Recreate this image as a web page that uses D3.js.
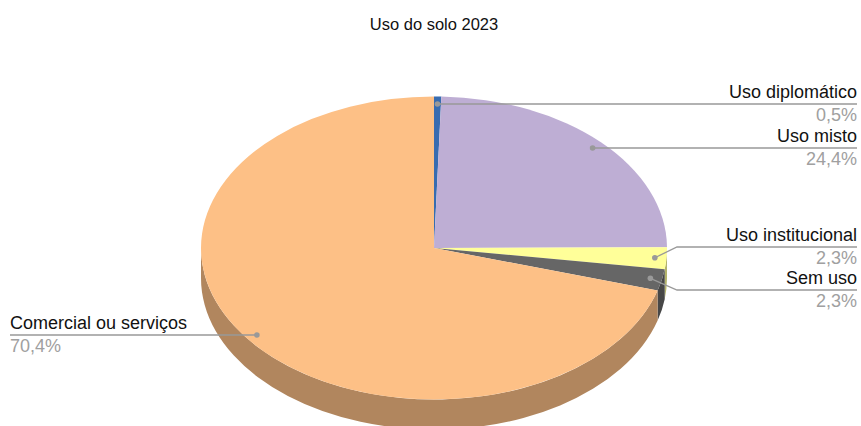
<!DOCTYPE html>
<html>
<head>
<meta charset="utf-8">
<script src="https://cdn.jsdelivr.net/npm/d3@7"></script>
<style>
  body { margin: 0; background: #fff; }
  svg { display: block; font-family: "Liberation Sans", Arial, sans-serif; }
</style>
</head>
<body>
<svg id="chart" width="861" height="426"></svg>
<script>
// data
const categories = ["Uso diplomático", "Uso misto", "Uso institucional", "Sem uso", "Comercial ou serviços"]
const values = [0.5, 24.4, 2.3, 2.3, 70.4]
const colors = ["#386cb0", "#beaed4", "#ffff99", "#666666", "#fdc086"]
const title = "Uso do solo 2023"

const width = 861
const height = 426
const cx = 434, cy = 248
const rx = 233, ry = 151.5
const depth = 30

const svg = d3.select("#chart")

svg.append("text")
  .attr("x", cx)
  .attr("y", 30)
  .attr("text-anchor", "middle")
  .attr("font-size", 16.5)
  .attr("fill", "#111")
  .text(title)

const slices = categories.map((c, i) => ({ name: c, value: values[i], color: colors[i] }))

const pie = d3.pie()
  .sort(null)
  .value(d => d.value)

const arcs = pie(slices)

// point on the top ellipse, angle clockwise from 12 o'clock
function ellipsePoint(a, f = 1) {
  return [cx + f * rx * Math.sin(a), cy - f * ry * Math.cos(a)]
}

// sides first (only the front half is visible)
const sides = svg.append("g")
for (let a of arcs) {
  let s = Math.max(a.startAngle, Math.PI / 2)
  let e = Math.min(a.endAngle, 3 * Math.PI / 2)
  if (e <= s) continue
  let p0 = ellipsePoint(s), p1 = ellipsePoint(e)
  let d = `M${p0[0]},${p0[1]}` +
    ` A${rx},${ry} 0 0 1 ${p1[0]},${p1[1]}` +
    ` L${p1[0]},${p1[1] + depth}` +
    ` A${rx},${ry} 0 0 0 ${p0[0]},${p0[1] + depth} Z`
  sides.append("path")
    .attr("d", d)
    .attr("fill", d3.color(a.data.color).darker(1))
}

// top faces: circle arcs squashed into the ellipse
const arc = d3.arc()
  .innerRadius(0)
  .outerRadius(rx)

svg.append("g")
  .attr("transform", `translate(${cx},${cy}) scale(1,${ry / rx})`)
  .selectAll("path")
  .data(arcs)
  .join("path")
  .attr("d", arc)
  .attr("fill", d => d.data.color)

// labels
const fmt = v => v.toFixed(1).replace(".", ",") + "%"
// y of each label line, and which side it goes to
const labelY = [104, 148, 247, 290, 335]
const side = ["right", "right", "right", "right", "left"]
const elbowX = 677

const lab = svg.append("g")
arcs.forEach((a, i) => {
  let mid = (a.startAngle + a.endAngle) / 2
  let dot = ellipsePoint(mid, 0.95)
  let y = labelY[i]
  let right = side[i] === "right"
  let endX = right ? 857 : 10
  let pts
  if (Math.abs(dot[1] - y) > 2) {
    pts = [dot, [elbowX, y], [endX, y]]
  } else {
    pts = [[dot[0], y], [endX, y]]
  }
  lab.append("path")
    .attr("d", d3.line()(pts))
    .attr("fill", "none")
    .attr("stroke", "#999")
    .attr("stroke-width", 1.3)
  lab.append("circle")
    .attr("cx", pts[0][0])
    .attr("cy", pts[0][1])
    .attr("r", 2.8)
    .attr("fill", "#999")
  lab.append("text")
    .attr("x", endX)
    .attr("y", y - 6)
    .attr("text-anchor", right ? "end" : "start")
    .attr("font-size", 18)
    .attr("fill", "#111")
    .text(a.data.name)
  lab.append("text")
    .attr("x", endX)
    .attr("y", y + 17)
    .attr("text-anchor", right ? "end" : "start")
    .attr("font-size", 18)
    .attr("fill", "#a0a0a0")
    .text(fmt(a.data.value))
})
</script>
</body>
</html>
